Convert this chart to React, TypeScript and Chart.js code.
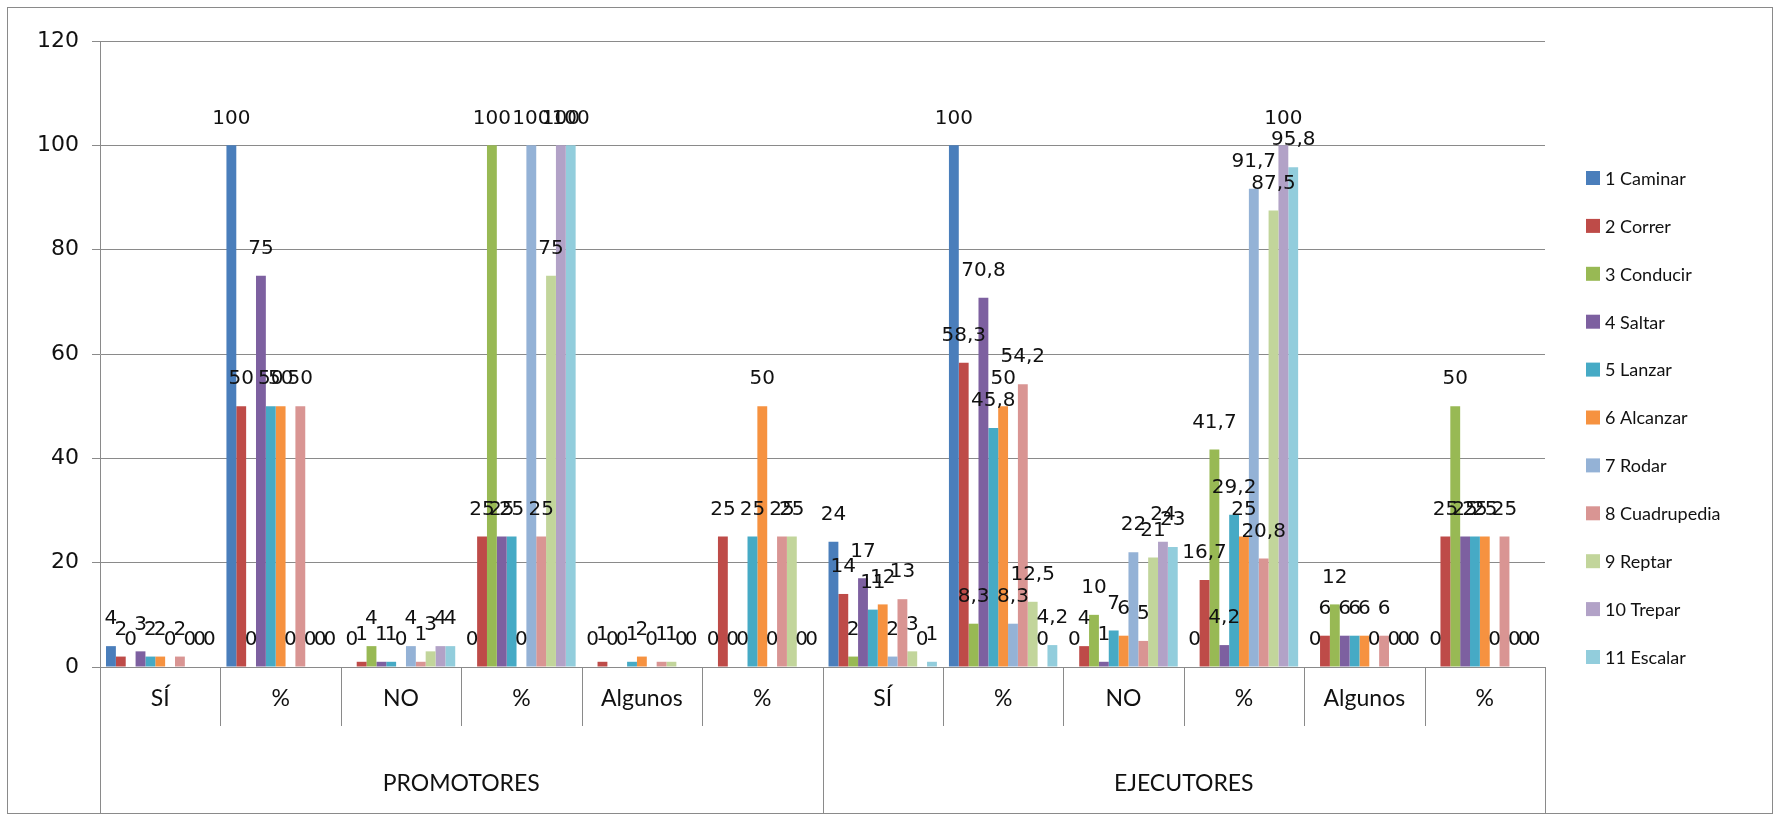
import React, { useEffect, useRef } from 'react';
import { Chart, registerables } from 'chart.js';

Chart.register(...registerables);

const CATEGORIES = ['SÍ', '%', 'NO', '%', 'Algunos', '%', 'SÍ', '%', 'NO', '%', 'Algunos', '%'];
const GROUPS = ['PROMOTORES', 'EJECUTORES'];
const SERIES_NAMES = [
  '1 Caminar', '2 Correr', '3 Conducir', '4 Saltar', '5 Lanzar', '6 Alcanzar',
  '7 Rodar', '8 Cuadrupedia', '9 Reptar', '10 Trepar', '11 Escalar',
];
const CAMINAR = [4, 100, 0, 0, 0, 0, 24, 100, 0, 0, 0, 0];
const CORRER = [2, 50, 1, 25, 1, 25, 14, 58.3, 4, 16.7, 6, 25];
const CONDUCIR = [0, 0, 4, 100, 0, 0, 2, 8.3, 10, 41.7, 12, 50];
const SALTAR = [3, 75, 1, 25, 0, 0, 17, 70.8, 1, 4.2, 6, 25];
const LANZAR = [2, 50, 1, 25, 1, 25, 11, 45.8, 7, 29.2, 6, 25];
const ALCANZAR = [2, 50, 0, 0, 2, 50, 12, 50, 6, 25, 6, 25];
const RODAR = [0, 0, 4, 100, 0, 0, 2, 8.3, 22, 91.7, 0, 0];
const CUADRUPEDIA = [2, 50, 1, 25, 1, 25, 13, 54.2, 5, 20.8, 6, 25];
const REPTAR = [0, 0, 3, 75, 1, 25, 3, 12.5, 21, 87.5, 0, 0];
const TREPAR = [0, 0, 4, 100, 0, 0, 0, 0, 24, 100, 0, 0];
const ESCALAR = [0, 0, 4, 100, 0, 0, 1, 4.2, 23, 95.8, 0, 0];
const SERIES_VALUES = [CAMINAR, CORRER, CONDUCIR, SALTAR, LANZAR, ALCANZAR, RODAR, CUADRUPEDIA, REPTAR, TREPAR, ESCALAR];
const COLORS = [
  '#4A7EBB', '#BE4B48', '#98B954', '#7D60A0', '#46AAC5', '#F69240',
  '#94B2D6', '#D99593', '#C2D59B', '#B2A2C7', '#92CDDC',
];
const Y_MIN = 0;
const Y_MAX = 120;
const Y_STEP = 20;

const W = 1780;
const H = 820;

const fmt = (v: number) => String(v).replace('.', ',');

const decorPlugin = {
  id: 'decor',
  beforeDraw(chart: any) {
    const { ctx } = chart;
    ctx.save();
    ctx.fillStyle = '#ffffff';
    ctx.fillRect(0, 0, chart.width, chart.height);
    ctx.strokeStyle = '#8a8a8a';
    ctx.lineWidth = 1;
    ctx.strokeRect(7.5, 7.5, chart.width - 15, chart.height - 14);
    ctx.restore();
  },
  afterDatasetsDraw(chart: any) {
    const { ctx } = chart;
    ctx.save();
    ctx.font = '20px "DejaVu Sans", sans-serif';
    ctx.fillStyle = '#111111';
    ctx.textAlign = 'center';
    ctx.textBaseline = 'middle';
    chart.data.datasets.forEach((ds: any, di: number) => {
      const meta = chart.getDatasetMeta(di);
      meta.data.forEach((bar: any, i: number) => {
        ctx.fillText(fmt(ds.data[i]), bar.x, bar.y - 27);
      });
    });
    ctx.restore();
  },
  afterDraw(chart: any) {
    const { ctx, chartArea } = chart;
    const xs = chart.scales.x;
    const n = CATEGORIES.length;
    const groupSize = n / GROUPS.length;
    const innerBottom = chartArea.bottom + 59;
    const outerBottom = chart.height - 6;
    ctx.save();
    ctx.strokeStyle = '#8a8a8a';
    ctx.lineWidth = 1;
    for (let i = 0; i <= n; i++) {
      const x = Math.round(xs.getPixelForValue(i - 0.5)) + 0.5;
      const isGroup = i % groupSize === 0;
      ctx.beginPath();
      ctx.moveTo(x, chartArea.bottom);
      ctx.lineTo(x, isGroup ? outerBottom : innerBottom);
      ctx.stroke();
    }
    ctx.font = '23px Lato, sans-serif';
    ctx.fillStyle = '#111111';
    ctx.textAlign = 'center';
    ctx.textBaseline = 'middle';
    GROUPS.forEach((g, gi) => {
      const cx = xs.getPixelForValue(gi * groupSize + (groupSize - 1) / 2);
      ctx.fillText(g, cx, chartArea.bottom + 117);
    });
    // legend
    ctx.font = '18px Lato, sans-serif';
    ctx.textAlign = 'left';
    const lx = chartArea.right + 41;
    const ly0 = chartArea.top + 137;
    const step = 47.9;
    chart.data.datasets.forEach((ds: any, di: number) => {
      const y = ly0 + di * step;
      ctx.fillStyle = ds.backgroundColor;
      ctx.fillRect(lx, y - 7, 14, 14);
      ctx.fillStyle = '#111111';
      ctx.fillText(ds.label, lx + 19, y + 1);
    });
    ctx.restore();
  },
};

export default function App() {
  const ref = useRef<HTMLCanvasElement | null>(null);
  useEffect(() => {
    document.body.style.margin = '0';
    if (!ref.current) return;
    const chart = new Chart(ref.current, {
      type: 'bar',
      data: {
        labels: CATEGORIES,
        datasets: SERIES_VALUES.map((vals, i) => ({
          label: SERIES_NAMES[i],
          data: vals,
          backgroundColor: COLORS[i],
          borderWidth: 0,
          categoryPercentage: 0.9,
          barPercentage: 1.0,
        })),
      },
      options: {
        responsive: false,
        animation: false,
        devicePixelRatio: 1,
        layout: { padding: { left: 8, top: 41, right: W - 1545, bottom: 0 } },
        plugins: {
          legend: { display: false },
          tooltip: { enabled: false },
          title: { display: false },
        },
        scales: {
          x: {
            grid: { display: false, drawTicks: false },
            border: { display: true, color: '#8a8a8a', width: 1 },
            ticks: {
              color: '#111111',
              font: { family: 'Lato, sans-serif', size: 23 },
              padding: 18,
              maxRotation: 0,
              autoSkip: false,
            },
            afterFit: (s: any) => { s.height = H - 667; },
          },
          y: {
            min: Y_MIN,
            max: Y_MAX,
            ticks: {
              stepSize: Y_STEP,
              color: '#111111',
              font: { family: '"DejaVu Sans", sans-serif', size: 22 },
              padding: 13,
            },
            grid: { color: '#8a8a8a', lineWidth: 1, tickLength: 8 },
            border: { display: true, color: '#8a8a8a', width: 1 },
            afterFit: (s: any) => { s.width = 92; },
          },
        },
      },
      plugins: [decorPlugin],
    });
    return () => chart.destroy();
  }, []);
  return (
    <div style={{ width: W, height: H }}>
      <canvas ref={ref} width={W} height={H} style={{ display: 'block' }} />
    </div>
  );
}
